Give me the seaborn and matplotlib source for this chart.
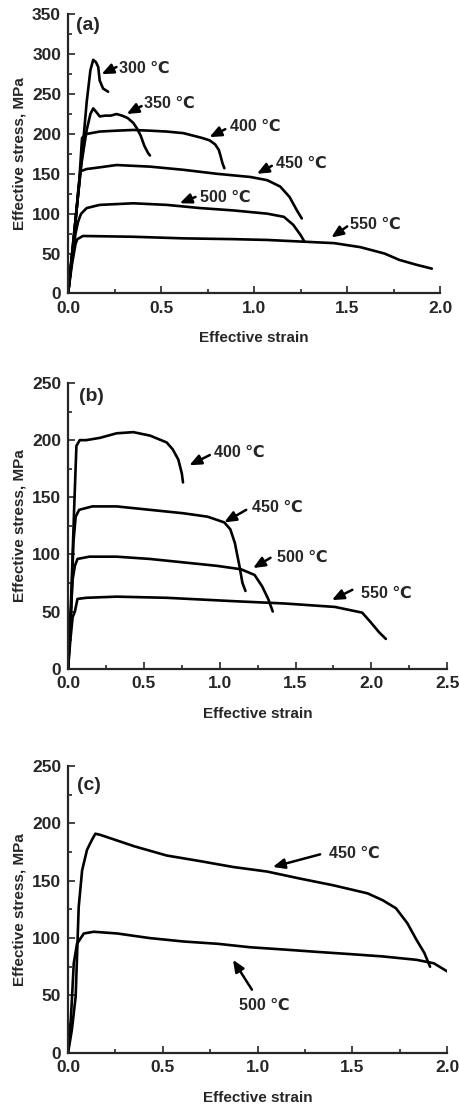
import matplotlib
matplotlib.use("Agg")
import matplotlib.pyplot as plt
import seaborn as sns
from matplotlib.ticker import MultipleLocator

sns.set_style("ticks")
plt.rcParams["font.family"] = ["Liberation Sans", "DejaVu Sans"]
plt.rcParams["font.weight"] = "bold"

# panel (a)
a_300_strain = [0.0, 0.03, 0.07, 0.10, 0.12, 0.135, 0.15, 0.162, 0.17, 0.188, 0.215]
a_300_stress = [0, 70, 160, 240, 280, 293, 290, 284, 267, 257, 253]
a_350_strain = [0.0, 0.03, 0.07, 0.10, 0.12, 0.135, 0.15, 0.17, 0.20, 0.23, 0.26,
                0.29, 0.32, 0.35, 0.37, 0.39, 0.41, 0.43, 0.44]
a_350_stress = [0, 70, 160, 205, 225, 232, 228, 222, 223, 223, 225,
                223, 220, 214, 207, 198, 185, 176, 173]
a_400_strain = [0.0, 0.03, 0.06, 0.075, 0.10, 0.17, 0.25, 0.35, 0.45, 0.53, 0.62,
                0.67, 0.72, 0.76, 0.79, 0.81, 0.82, 0.83, 0.84]
a_400_stress = [0, 65, 140, 195, 200, 203, 204, 205, 204, 203, 201,
                198, 195, 192, 187, 180, 172, 163, 157]
a_450_strain = [0.0, 0.03, 0.055, 0.065, 0.10, 0.135, 0.26, 0.44, 0.62, 0.80,
                0.98, 1.07, 1.14, 1.19, 1.23, 1.256]
a_450_stress = [0, 65, 130, 153, 156, 157, 161, 159, 155, 150,
                146, 142, 134, 121, 104, 94]
a_500_strain = [0.0, 0.02, 0.04, 0.054, 0.07, 0.10, 0.17, 0.35, 0.53, 0.71,
                0.89, 1.07, 1.16, 1.21, 1.25, 1.27]
a_500_stress = [0, 40, 75, 90, 100, 107, 111, 113, 111, 107,
                104, 100, 96, 86, 73, 65]
a_550_strain = [0.0, 0.02, 0.04, 0.05, 0.08, 0.35, 0.62, 0.89, 1.07, 1.25,
                1.43, 1.57, 1.70, 1.78, 1.87, 1.955]
a_550_stress = [0, 35, 62, 68, 72, 71, 69, 68, 67, 65,
                63, 58, 50, 42, 36, 31]

# panel (b)
b_400_strain = [0.0, 0.02, 0.04, 0.055, 0.077, 0.12, 0.21, 0.32, 0.43, 0.54,
                0.65, 0.69, 0.727, 0.75, 0.758]
b_400_stress = [0, 60, 140, 195, 200, 200, 202, 206, 207, 204,
                198, 192, 183, 171, 163]
b_450_strain = [0.0, 0.02, 0.035, 0.05, 0.073, 0.16, 0.32, 0.54, 0.76, 0.92,
                1.03, 1.07, 1.10, 1.13, 1.15, 1.17]
b_450_stress = [0, 50, 110, 133, 139, 142, 142, 139, 136, 133,
                128, 122, 110, 90, 75, 68]
b_500_strain = [0.0, 0.015, 0.03, 0.045, 0.062, 0.14, 0.32, 0.54, 0.76, 0.98,
                1.14, 1.23, 1.28, 1.32, 1.35]
b_500_stress = [0, 40, 78, 90, 96, 98, 98, 96, 93, 90,
                87, 82, 72, 61, 50]
b_550_strain = [0.0, 0.015, 0.03, 0.045, 0.062, 0.12, 0.32, 0.65, 1.10, 1.43,
                1.76, 1.94, 2.00, 2.05, 2.096]
b_550_stress = [0, 25, 45, 50, 61, 62, 63, 62, 59, 57,
                54, 49, 40, 32, 26]

# panel (c)
c_450_strain = [0.0, 0.02, 0.04, 0.056, 0.074, 0.10, 0.127, 0.144, 0.17, 0.26,
                0.35, 0.52, 0.70, 0.87, 1.05, 1.22, 1.40, 1.58, 1.66, 1.73,
                1.79, 1.84, 1.88, 1.91]
c_450_stress = [0, 20, 49, 127, 159, 177, 186, 191, 190, 185,
                180, 172, 167, 162, 158, 152, 146, 139, 133, 126,
                113, 98, 87, 75]
c_500_strain = [0.0, 0.015, 0.03, 0.047, 0.083, 0.135, 0.26, 0.43, 0.61, 0.79,
                0.96, 1.14, 1.31, 1.49, 1.66, 1.84, 1.93, 2.00]
c_500_stress = [0, 30, 78, 95, 104, 105.5, 104, 100, 97, 95,
                92, 90, 88, 86, 84, 81, 78, 71]

panels = [
    {
        "tag": "(a)",
        "curves": [(a_300_strain, a_300_stress), (a_350_strain, a_350_stress),
                   (a_400_strain, a_400_stress), (a_450_strain, a_450_stress),
                   (a_500_strain, a_500_stress), (a_550_strain, a_550_stress)],
        "labels": ["300 ℃", "350 ℃", "400 ℃", "450 ℃", "500 ℃", "550 ℃"],
        # (text x, text y, arrow tail, arrow head)
        "notes": [(0.275, 282, (0.26, 284), (0.18, 275)),
                  (0.41, 238, (0.395, 235), (0.315, 225)),
                  (0.87, 209, (0.845, 206), (0.76, 196)),
                  (1.12, 163, (1.095, 160), (1.015, 150)),
                  (0.71, 121, (0.685, 121), (0.60, 113)),
                  (1.515, 87, (1.50, 84), (1.415, 70))],
        "xmax": 2.0, "ymax": 350, "tag_xy": (0.045, 336),
        "box": [0.148, 0.735, 0.809, 0.252],
    },
    {
        "tag": "(b)",
        "curves": [(b_400_strain, b_400_stress), (b_450_strain, b_450_stress),
                   (b_500_strain, b_500_stress), (b_550_strain, b_550_stress)],
        "labels": ["400 ℃", "450 ℃", "500 ℃", "550 ℃"],
        "notes": [(0.96, 189, (0.935, 187), (0.80, 178)),
                  (1.21, 141, (1.175, 139), (1.03, 128)),
                  (1.38, 97, (1.335, 97), (1.22, 88)),
                  (1.93, 66, (1.875, 69), (1.74, 60))],
        "xmax": 2.5, "ymax": 250, "tag_xy": (0.073, 238),
        "box": [0.148, 0.396, 0.824, 0.258],
    },
    {
        "tag": "(c)",
        "curves": [(c_450_strain, c_450_stress), (c_500_strain, c_500_stress)],
        "labels": ["450 ℃", "500 ℃"],
        "notes": [(1.375, 174, (1.33, 173), (1.08, 162)),
                  (0.90, 41, (0.97, 55), (0.87, 81))],
        "xmax": 2.0, "ymax": 250, "tag_xy": (0.047, 233),
        "box": [0.148, 0.049, 0.824, 0.259],
    },
]

fig = plt.figure(figsize=(4.6, 11.07), dpi=100)

for p in panels:
    ax = fig.add_axes(p["box"])
    for strain, stress in p["curves"]:
        sns.lineplot(x=strain, y=stress, sort=False, estimator=None,
                     color="black", lw=1.9, ax=ax)
    for lab, (tx, ty, tail, head) in zip(p["labels"], p["notes"]):
        ax.annotate("", xy=head, xytext=tail,
                    arrowprops=dict(arrowstyle="-|>,head_length=0.7,head_width=0.3",
                                    color="black", lw=1.8, shrinkA=0, shrinkB=0))
        ax.text(tx, ty, lab, ha="left", va="center", fontsize=11.5,
                fontweight="bold")
    ax.text(*p["tag_xy"], p["tag"], ha="left", va="center", fontsize=14,
            fontweight="bold")

    ax.set_xlim(0, p["xmax"])
    ax.set_ylim(0, p["ymax"])
    ax.xaxis.set_major_locator(MultipleLocator(0.5))
    ax.xaxis.set_minor_locator(MultipleLocator(0.25))
    ax.yaxis.set_major_locator(MultipleLocator(50))
    ax.yaxis.set_minor_locator(MultipleLocator(25))
    ax.xaxis.set_major_formatter(matplotlib.ticker.FormatStrFormatter("%.1f"))
    ax.tick_params(which="both", direction="in", width=1.2, labelsize=12.5)
    ax.tick_params(which="major", length=5)
    ax.tick_params(which="minor", length=3)
    ax.tick_params(axis="x", pad=5.5)
    ax.tick_params(axis="y", pad=5)
    for lbl in ax.get_xticklabels() + ax.get_yticklabels():
        lbl.set_fontweight("bold")
    sns.despine(ax=ax)
    for side in ["left", "bottom"]:
        ax.spines[side].set_linewidth(1.6)
    ax.set_xlabel("Effective strain", fontsize=11, fontweight="bold", labelpad=11)
    ax.set_ylabel("Effective stress, MPa", fontsize=11, fontweight="bold", labelpad=4)

fig.savefig("out.png", dpi=100)
